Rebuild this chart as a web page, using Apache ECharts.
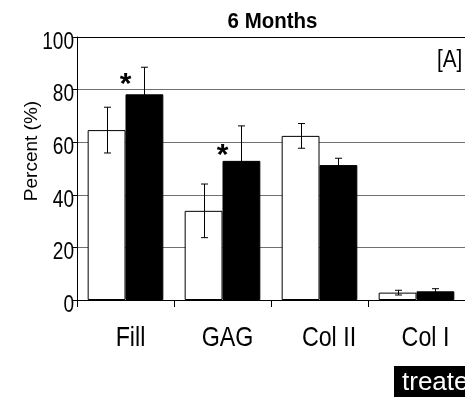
<!DOCTYPE html>
<html>
<head>
<meta charset="utf-8">
<script src="https://cdn.jsdelivr.net/npm/echarts@6/dist/echarts.min.js"></script>
<style>html,body{margin:0;padding:0;background:#fff}#c{width:465px;height:397px}</style>
</head>
<body>
<div id="c"></div>
<script>
const categories = ['Fill', 'GAG', 'Col II', 'Col I'];
const controlValues = [64.6, 33.9, 62.4, 2.8];
const controlErrors = [8.7, 10.2, 4.7, 0.9];
const treatedValues = [78.2, 52.9, 51.3, 3.3];
const treatedErrors = [10.3, 13.3, 2.6, 1.0];
const sigCategories = ['Fill', 'GAG'];
const sigLevels = [83.5, 56.3];
const yTickValues = [0, 20, 40, 60, 80, 100];
const yTickLabels = ['0', '20', '40', '60', '80', '100'];
const yMin = 0, yMax = 100, yStep = 20;
const titleText = '6 Months';
const panelText = '[A]';
const yName = 'Percent (%)';
const legendText = 'treated';

const FONT = '"Liberation Sans", Arial, sans-serif';
const NARROW_SCALE = 0.83;
const BAR_CAT_GAP = 0.22;
const labelShift = [5, 5, 9.5, 9];

function errRender(sign) {
  return function (params, api) {
    const ci = api.value(0), v = api.value(1), e = api.value(2);
    const band = api.size([1, 0])[0];
    const bw = band * (1 - BAR_CAT_GAP) / 2;
    const top = api.coord([ci, v + e]);
    const bot = api.coord([ci, v - e]);
    const x = Math.round(top[0] + sign * bw / 2) + 0.5;
    const hw = 3.5;
    const st = { stroke: '#000', lineWidth: 1 };
    return {
      type: 'group',
      children: [
        { type: 'line', shape: { x1: x, y1: top[1], x2: x, y2: bot[1] }, style: st },
        { type: 'line', shape: { x1: x - hw, y1: top[1], x2: x + hw, y2: top[1] }, style: st },
        { type: 'line', shape: { x1: x - hw, y1: bot[1], x2: x + hw, y2: bot[1] }, style: st }
      ]
    };
  };
}

const chart = echarts.init(document.getElementById('c'), null, { renderer: 'canvas' });
chart.setOption({
  animation: false,
  backgroundColor: '#fff',
  grid: { left: 77, top: 37, width: 396, height: 263, containLabel: false },
  xAxis: {
    type: 'category',
    data: categories,
    axisLine: { lineStyle: { color: '#000', width: 1 } },
    axisTick: { show: true, length: 7, lineStyle: { color: '#000' } },
    axisLabel: { show: false },
    splitLine: { show: false }
  },
  yAxis: {
    type: 'value',
    min: yMin, max: yMax, interval: yStep,
    axisLine: { show: true, lineStyle: { color: '#000', width: 1 } },
    axisTick: { show: true, length: 4, lineStyle: { color: '#000' } },
    axisLabel: { show: false },
    splitLine: { show: true, lineStyle: { color: ['#000', '#707070', '#707070', '#707070', '#707070', '#000'], width: 1 } }
  },
  series: [
    {
      name: 'control', type: 'bar', data: controlValues,
      barGap: '0%', barCategoryGap: (BAR_CAT_GAP * 100) + '%',
      itemStyle: { color: '#fff', borderColor: '#000', borderWidth: 1 }
    },
    {
      name: 'treated', type: 'bar', data: treatedValues,
      barGap: '0%', barCategoryGap: (BAR_CAT_GAP * 100) + '%',
      itemStyle: { color: '#000', borderColor: '#000', borderWidth: 1 }
    },
    {
      type: 'custom', name: 'control err', z: 5,
      data: controlValues.map((v, i) => [i, v, controlErrors[i]]),
      renderItem: errRender(-1)
    },
    {
      type: 'custom', name: 'treated err', z: 5,
      data: treatedValues.map((v, i) => [i, v, treatedErrors[i]]),
      renderItem: errRender(1)
    },
    {
      type: 'custom', name: 'significance', z: 6,
      data: sigCategories.map((c, i) => [categories.indexOf(c), sigLevels[i]]),
      renderItem: function (params, api) {
        const p = api.coord([api.value(0), api.value(1)]);
        return {
          type: 'text',
          style: {
            text: '*', x: p[0], y: p[1] + 4, align: 'center', verticalAlign: 'middle',
            font: 'bold 30px ' + FONT, fill: '#000'
          }
        };
      }
    },
    {
      type: 'custom', name: 'x labels', z: 6, silent: true,
      data: categories.map((c, i) => [i, yMin]),
      renderItem: function (params, api) {
        const i = api.value(0);
        const p = api.coord([i, api.value(1)]);
        return {
          type: 'text', x: p[0] + labelShift[i], y: p[1] + 38, scaleX: NARROW_SCALE,
          style: { text: categories[i], x: 0, y: 0, align: 'center', verticalAlign: 'middle',
                   font: '28px ' + FONT, fill: '#000' }
        };
      }
    },
    {
      type: 'custom', name: 'y labels', z: 6, silent: true,
      data: yTickValues.map(v => [0, v]),
      renderItem: function (params, api) {
        const band = api.size([1, 0])[0];
        const p = api.coord([0, api.value(1)]);
        return {
          type: 'text', x: p[0] - band / 2 - 3, y: p[1] + 5.5, scaleX: NARROW_SCALE,
          style: { text: yTickLabels[params.dataIndex], x: 0, y: 0, align: 'right', verticalAlign: 'middle',
                   font: '23px ' + FONT, fill: '#000' }
        };
      }
    }
  ],
  graphic: [
    { type: 'text', x: 272.5, y: 21.5, scaleX: 0.93,
      style: { text: titleText, x: 0, y: 0, font: 'bold 22px ' + FONT, fill: '#000', align: 'center', verticalAlign: 'middle' } },
    { type: 'text', x: 437, y: 61, scaleX: 0.9,
      style: { text: panelText, x: 0, y: 0, font: '23px ' + FONT, fill: '#000', align: 'left', verticalAlign: 'middle' } },
    { type: 'text', x: 31.5, y: 151, rotation: Math.PI / 2,
      style: { text: yName, x: 0, y: 0, font: '19px ' + FONT, fill: '#000', align: 'center', verticalAlign: 'middle' } },
    { type: 'rect', shape: { x: 394, y: 366, width: 90, height: 40 }, style: { fill: '#000' } },
    { type: 'text', x: 402, y: 383,
      style: { text: legendText, x: 0, y: 0, font: '26px ' + FONT, fill: '#fff', align: 'left', verticalAlign: 'middle' } }
  ]
});
</script>
</body>
</html>
